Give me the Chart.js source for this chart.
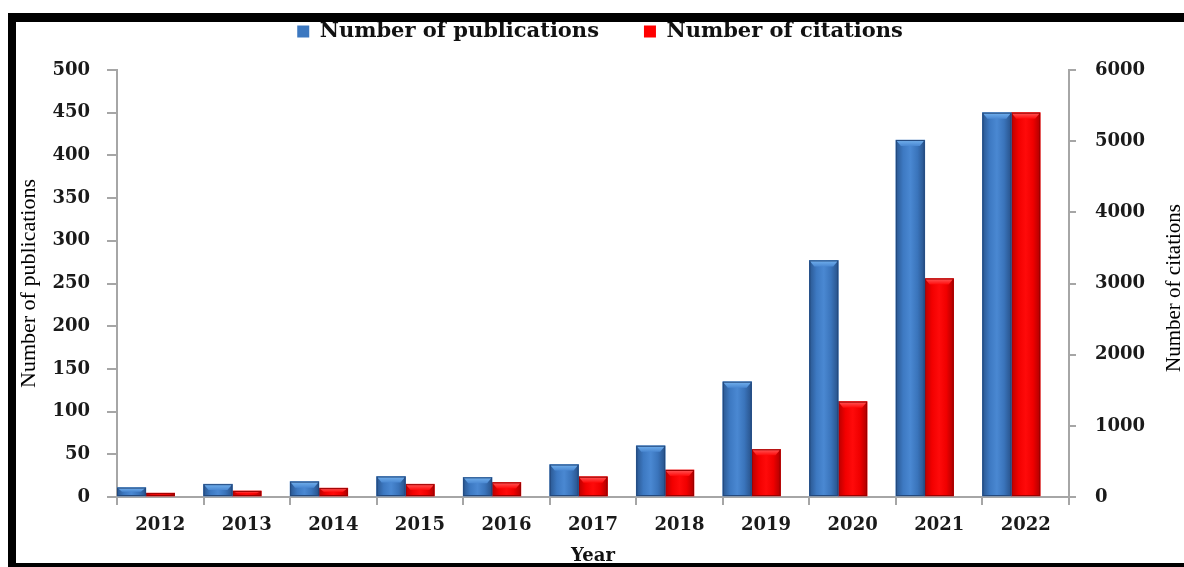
<!DOCTYPE html>
<html>
<head>
<meta charset="utf-8">
<script src="https://cdn.jsdelivr.net/npm/chart.js@4.4.1/dist/chart.umd.min.js"></script>
<style>
  body { margin: 0; background: #fff; }
  canvas { display: block; }
</style>
</head>
<body>
<canvas id="chart" width="1184" height="567"></canvas>
<script>
// Data
const years = ['2012', '2013', '2014', '2015', '2016', '2017', '2018', '2019', '2020', '2021', '2022'];
const publications = [11, 15, 18, 24, 23, 38, 60, 135, 277, 418, 450];
const citations = [55, 85, 125, 180, 205, 285, 380, 670, 1340, 3070, 5400];
const emptySlot = [null, null, null, null, null, null, null, null, null, null, null]; // keeps bars left in each category

const pubTicks = { min: 0, max: 500, step: 50 };
const citeTicks = { min: 0, max: 6000, step: 1000 };

const tickFont = { family: 'DejaVu Serif', weight: 'bold', size: 18 };
const leftTitleFont = { family: 'Liberation Serif', size: 22 };
const rightTitleFont = { family: 'Liberation Serif', size: 21 };
const axisGray = '#a6a6a6';

// colours for the bevelled bars (dataset index -> look)
const barLooks = {
  0: { stops: ['#2a5791', '#3d79c2', '#4a88d2', '#3a74bb', '#28528a'], bevel: '#74b2ee', edge: '#23497d' },
  1: { stops: ['#b80000', '#f20000', '#ff0a0a', '#f00000', '#b00000'], bevel: '#ff5a5a', edge: '#9a0000' }
};

const bevelBars = {
  id: 'bevelBars',
  afterDatasetDraw(chart, args) {
    const look = barLooks[args.index];
    if (!look) return;
    const ctx = chart.ctx;
    ctx.save();
    args.meta.data.forEach(bar => {
      const { x, y, base, width } = bar.getProps(['x', 'y', 'base', 'width'], true);
      if (y == null || isNaN(y)) return;
      const l = x - width / 2, r = x + width / 2, h = base - y;
      const g = ctx.createLinearGradient(l, 0, r, 0);
      const n = look.stops.length - 1;
      look.stops.forEach((c, i) => g.addColorStop(i / n, c));
      ctx.fillStyle = g;
      ctx.fillRect(l, y, width, h);
      // top bevel
      const b = Math.min(6, h / 2);
      const tg = ctx.createLinearGradient(0, y, 0, y + b);
      tg.addColorStop(0, look.bevel);
      tg.addColorStop(1, look.stops[2]);
      ctx.beginPath();
      ctx.moveTo(l, y);
      ctx.lineTo(r, y);
      ctx.lineTo(r - 5, y + b);
      ctx.lineTo(l + 5, y + b);
      ctx.closePath();
      ctx.fillStyle = tg;
      ctx.fill();
      ctx.strokeStyle = look.edge;
      ctx.lineWidth = 1;
      ctx.strokeRect(l + 0.5, y + 0.5, width - 1, h - 1);
    });
    ctx.restore();
  }
};

// white page, black frame, right-hand axis title reading upwards
const frame = {
  id: 'frame',
  beforeDraw(chart) {
    const ctx = chart.ctx;
    ctx.save();
    ctx.fillStyle = '#fff';
    ctx.fillRect(0, 0, chart.width, chart.height);
    ctx.restore();
  },
  afterDraw(chart) {
    const ctx = chart.ctx;
    ctx.save();
    ctx.fillStyle = '#000';
    ctx.fillRect(8, 13, 1176, 9);
    ctx.fillRect(8, 13, 8, 554);
    ctx.fillRect(8, 563, 1176, 4);

    ctx.translate(1174, 288);
    ctx.rotate(-Math.PI / 2);
    ctx.font = rightTitleFont.size + 'px "' + rightTitleFont.family + '"';
    ctx.fillStyle = '#000';
    ctx.textAlign = 'center';
    ctx.textBaseline = 'middle';
    ctx.fillText('Number of citations', 0, 0);
    ctx.restore();
  }
};

const legendSpace = {
  id: 'legendSpace',
  beforeInit(chart) {
    const fit = chart.legend.fit;
    chart.legend.fit = function () {
      fit.bind(chart.legend)();
      this.height = 94;
    };
  }
};

new Chart(document.getElementById('chart').getContext('2d'), {
  type: 'bar',
  data: {
    labels: years,
    datasets: [
      {
        label: 'Number of publications',
        data: publications,
        yAxisID: 'y',
        backgroundColor: '#3c78c0',
        borderColor: '#23497d',
        borderWidth: 0
      },
      {
        label: 'Number of citations',
        data: citations,
        yAxisID: 'y1',
        backgroundColor: '#ff0000',
        borderColor: '#9a0000',
        borderWidth: 0
      },
      {
        label: '',
        data: emptySlot,
        yAxisID: 'y',
        backgroundColor: 'rgba(0,0,0,0)'
      }
    ]
  },
  options: {
    responsive: false,
    devicePixelRatio: 1,
    animation: false,
    categoryPercentage: 1.0,
    barPercentage: 1.0,
    layout: { padding: { left: 16, right: 0, top: -24, bottom: 0 } },
    plugins: {
      tooltip: { enabled: false },
      legend: {
        position: 'top',
        labels: {
          filter: item => item.text !== '',
          boxWidth: 12,
          boxHeight: 12,
          padding: 45,
          color: '#111',
          font: { family: 'DejaVu Serif', weight: 'bold', size: 21 }
        }
      }
    },
    scales: {
      x: {
        grid: { drawOnChartArea: false, drawTicks: true, tickLength: 8, color: axisGray, lineWidth: 2 },
        border: { color: axisGray, width: 2 },
        ticks: { color: '#1a1a1a', font: tickFont, padding: 10, maxRotation: 0 },
        title: { display: true, text: 'Year', color: '#111', font: { family: 'DejaVu Serif', weight: 'bold', size: 18 }, padding: 0 },
        afterFit: s => { s.height = 70; }
      },
      y: {
        position: 'left',
        min: pubTicks.min,
        max: pubTicks.max,
        grid: { drawOnChartArea: false, drawTicks: true, tickLength: 10, color: axisGray, lineWidth: 2 },
        border: { color: axisGray, width: 2 },
        ticks: { stepSize: pubTicks.step, color: '#1a1a1a', font: tickFont, padding: 17 },
        title: { display: true, text: 'Number of publications', color: '#000', font: leftTitleFont, padding: 0 },
        afterFit: s => { s.width = 101; }
      },
      y1: {
        position: 'right',
        min: citeTicks.min,
        max: citeTicks.max,
        grid: { drawOnChartArea: false, drawTicks: true, tickLength: 7, color: axisGray, lineWidth: 2 },
        border: { color: axisGray, width: 2 },
        ticks: { stepSize: citeTicks.step, color: '#1a1a1a', font: tickFont, padding: 19, callback: v => String(v) },
        afterFit: s => { s.width = 115; }
      }
    }
  },
  plugins: [legendSpace, bevelBars, frame]
});
</script>
</body>
</html>
